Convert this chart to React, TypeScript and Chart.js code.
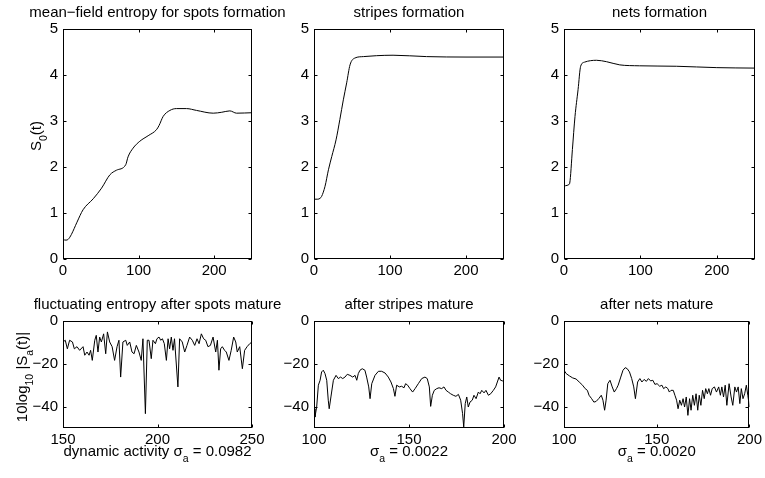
import React, { useEffect, useRef } from 'react';
import { Chart, registerables } from 'chart.js';

Chart.register(...registerables);

const FONT = "'Liberation Sans', Arial, Helvetica, sans-serif";

// ---------- data ----------
const TOP_X_TICKS = [0, 100, 200];
const TOP_Y_TICKS = [0, 1, 2, 3, 4, 5];
const BOT1_X_TICKS = [150, 200, 250];
const BOT_X_TICKS = [100, 150, 200];
const BOT_Y_TICKS = [-40, -20, 0];

const TITLES = [
  'mean\u2212field entropy for spots formation',
  'stripes formation',
  'nets formation',
  'fluctuating entropy after spots mature',
  'after stripes mature',
  'after nets mature',
];

// mean-field entropy S0(t)
const SPOTS_FORM: [number, number][] = [
  [0, 0.42], [4, 0.41], [7, 0.43], [11, 0.53], [18.5, 0.8], [26.5, 1.07], [40, 1.31], [51, 1.54],
  [62, 1.83], [70.7, 1.93], [83, 2.05], [86, 2.22], [92.7, 2.41], [101.6, 2.56], [112.6, 2.68],
  [123.6, 2.81], [127, 2.9], [132.5, 3.1], [141.4, 3.23], [150, 3.27], [163.4, 3.27], [176.6, 3.23],
  [198.7, 3.17], [210, 3.19], [220.7, 3.22], [229.6, 3.17], [250, 3.18],
];
const STRIPES_FORM: [number, number][] = [
  [0, 1.3], [5, 1.3], [8, 1.32], [10, 1.36], [14.5, 1.58], [19, 1.94], [23.4, 2.23], [29, 2.59],
  [34, 3.03], [38.6, 3.46], [43, 3.83], [47.4, 4.22], [54, 4.37], [65, 4.4], [82.5, 4.42],
  [104, 4.43], [148, 4.4], [200, 4.39], [250, 4.39],
];
const NETS_FORM: [number, number][] = [
  [0, 1.59], [4, 1.6], [6.5, 1.62], [7.5, 1.65], [11, 2.38], [14.4, 3.1], [18.4, 3.68], [21.8, 4.19],
  [27, 4.28], [42.4, 4.32], [55.5, 4.29], [73, 4.22], [99, 4.2], [147, 4.19], [200, 4.16], [250, 4.15],
];

// fluctuating entropy 10log10|Sa(t)|
const SPOTS_FLUCT: [number, number][] = [
  [150, -9.8], [151.2, -9], [152.3, -13], [153.5, -9], [155, -9.8], [156, -13], [157.4, -12],
  [158.8, -13.7], [160.6, -12], [161.5, -16], [162.7, -14.5], [163.8, -16], [164.6, -13.7],
  [165.5, -18.4], [166.8, -9], [167.6, -6.7], [168.5, -14.5], [169.4, -7.5], [170.3, -9.8],
  [171.5, -6], [172.6, -15.3], [173.5, -5.1], [174.7, -9.8], [176, -12], [177.3, -18.4],
  [178.6, -12], [179.6, -9], [180.5, -26.2], [181.7, -9.8], [183.2, -9], [184, -11.4],
  [185.3, -9.8], [186.5, -14.5], [187.6, -15.3], [188.8, -11.4], [190.2, -14.5], [191.4, -18.4],
  [192.3, -8.3], [193.6, -43.3], [194.6, -9], [195.5, -9], [196.7, -17.6], [197.6, -9],
  [198.9, -10.6], [199.7, -8.3], [200.8, -7.5], [201.7, -9], [202.6, -8.3], [203.6, -10.6],
  [204.7, -18.4], [205.6, -8.3], [206.4, -13], [207.3, -7.5], [208.2, -13.7], [209, -8.3],
  [210.8, -30.8], [211.7, -8.3], [213.1, -9.8], [214.4, -14.5], [215.6, -11.4], [217, -7.5],
  [218.4, -9], [219.7, -11.4], [220.9, -8.3], [222, -10.6], [223.2, -6], [224.4, -8.3],
  [225.5, -9], [226.7, -12], [228, -11.4], [229.4, -7.5], [230.8, -14.5], [231.7, -9],
  [232.5, -23], [233.4, -13], [234.3, -12], [235.5, -13.7], [236.4, -14.5], [237.8, -18.4],
  [239, -13.7], [240.3, -7.5], [241.4, -9.8], [242.2, -14.5], [243.5, -12], [244.9, -22.3],
  [246.1, -13.7], [247.4, -12], [248.8, -10.6], [250, -9.8],
];
const STRIPES_FLUCT: [number, number][] = [
  [100, -41], [100.5, -44.9], [101.4, -40.2], [102.3, -30], [103.2, -27.7], [104, -23.8],
  [104.9, -23], [105.8, -24.6], [106.7, -27.7], [107.5, -37], [108, -41], [108.9, -35.5],
  [110.2, -27.7], [111.6, -25.4], [112.8, -26.9], [114, -26.2], [115.1, -26.9], [116.3, -26.2],
  [117.5, -24.9], [118.9, -25.4], [120.4, -26.2], [121.6, -25.4], [122.5, -27.7], [123.3, -24.6],
  [124.2, -23], [125.4, -22.3], [126.8, -23], [127.7, -26.2], [128.8, -30.8], [129.5, -36.3],
  [130.4, -29.3], [132.1, -25.4], [133.9, -23.5], [135.6, -23.5], [137.4, -24.3], [139.1, -26.2],
  [140.5, -28.5], [141.8, -31.6], [142.6, -35.2], [143.5, -30], [144.9, -30.8], [146.1, -30.5],
  [147.4, -31.2], [148.2, -29.3], [149.3, -30], [150.5, -31.6], [151.9, -33.2], [153.2, -31.6],
  [154.9, -29.3], [156.7, -26.9], [158.4, -26.2], [159.6, -26.9], [160.7, -30.8], [161.4, -39.9],
  [162.3, -34.7], [163.3, -32.4], [164.6, -31.6], [165.8, -31.2], [167.2, -31.6], [168.4, -30.8],
  [169.5, -32.4], [170.7, -33.2], [171.9, -34], [173.3, -34.7], [174.7, -35.2], [176, -34.3],
  [177.2, -37], [178.2, -43.3], [178.8, -49.5], [179.6, -38.6], [180.4, -35.5], [181.2, -40.2],
  [182.1, -37.9], [183.3, -37], [184.2, -34.7], [185.3, -36.3], [186.5, -33.2], [187.4, -34],
  [188.3, -32.4], [189.5, -33.6], [190.5, -32.4], [191.8, -34.7], [193, -34], [194.4, -32.4],
  [195.6, -30.8], [196.5, -28.5], [197.4, -26.2], [198.2, -27.7], [199.3, -28], [200, -27.7],
];
const NETS_FLUCT: [number, number][] = [
  [100, -23], [101.2, -24.6], [103, -25.7], [104.7, -26.6], [106.5, -27.1], [108.2, -28.5],
  [110, -30], [111.4, -31.6], [112.6, -32.4], [113.5, -34.7], [114.9, -36.3], [116.1, -37.9],
  [117.3, -37.6], [118.7, -36.3], [120.1, -34.7], [121, -37], [121.9, -41.7], [122.7, -37],
  [123.6, -29.3], [124.8, -27.7], [126, -30.8], [127.1, -33.2], [128.3, -31.6], [129.2, -30],
  [130.6, -26.2], [131.8, -23], [133, -21.8], [134.1, -22.3], [135.3, -23.8], [136.5, -26.9],
  [137.6, -30.8], [138.5, -36.3], [139.7, -28.5], [140.9, -26.9], [142, -28.5], [143.2, -27.3],
  [144.4, -28.2], [145.5, -26.9], [146.7, -28], [147.9, -27.7], [149, -29.6], [150.2, -29.3],
  [151.6, -30.5], [152.8, -30], [153.7, -31.6], [154.9, -30.8], [156, -31.6], [156.8, -33.2],
  [157.7, -32.4], [158.9, -32.4], [159.8, -34.7], [160.7, -37], [161.5, -41], [162.4, -37],
  [163.3, -39.4], [164.2, -36.3], [165, -40.2], [165.9, -35.5], [166.8, -44.1], [167.7, -36.3],
  [168.5, -41.7], [169.4, -34.7], [170.3, -39.4], [171.2, -34], [172.1, -41.7], [172.9, -34.7],
  [173.8, -39.4], [174.7, -32.4], [175.6, -36.3], [176.4, -31.6], [177.3, -34], [178.1, -31.6],
  [179, -34.7], [179.9, -31.6], [181.1, -30.8], [182.2, -33.2], [183.4, -30.8], [184.3, -34.7],
  [185.1, -30.8], [186, -35.5], [186.9, -30], [187.8, -39.4], [189, -29.3], [190.1, -35.5],
  [191, -39.4], [192.1, -30.8], [193, -33.2], [193.9, -30.8], [194.8, -38.6], [195.6, -31.6],
  [196.5, -36.3], [197.4, -34], [198.3, -30], [199.1, -34.7], [200, -40.2],
];

// ---------- layout ----------
type Seg = { t: string; sub?: boolean };

type PanelCfg = {
  title: string;
  data: [number, number][];
  smooth: boolean;
  xMin: number; xMax: number; xTicks: number[];
  yMin: number; yMax: number; yTicks: number[];
  left: number; right: number; top: number; bottom: number;
  xLabel?: Seg[];
  yLabel?: Seg[];
  yLabelX?: number; yLabelY?: number;
};

const COL_L = [63, 314, 564];
const COL_R = [252, 504, 755];
const ROW_T = [29, 321];
const ROW_B = [259, 428];

const Y_AXIS_W = 40;
const X_AXIS_H = 25;
const TEXT_SIZE = 15;
const SUB_SIZE = 10.5;
const SUB_SHIFT = 6;
const TITLE_GAP = 12;
const XLABEL_BASE = 456;

const PANELS: PanelCfg[] = [
  {
    title: TITLES[0], data: SPOTS_FORM, smooth: true,
    xMin: 0, xMax: 250, xTicks: TOP_X_TICKS, yMin: 0, yMax: 5, yTicks: TOP_Y_TICKS,
    left: COL_L[0], right: COL_R[0], top: ROW_T[0], bottom: ROW_B[0],
    yLabel: [{ t: 'S' }, { t: '0', sub: true }, { t: '(t)' }], yLabelX: 41, yLabelY: 136,
  },
  {
    title: TITLES[1], data: STRIPES_FORM, smooth: true,
    xMin: 0, xMax: 250, xTicks: TOP_X_TICKS, yMin: 0, yMax: 5, yTicks: TOP_Y_TICKS,
    left: COL_L[1], right: COL_R[1], top: ROW_T[0], bottom: ROW_B[0],
  },
  {
    title: TITLES[2], data: NETS_FORM, smooth: true,
    xMin: 0, xMax: 250, xTicks: TOP_X_TICKS, yMin: 0, yMax: 5, yTicks: TOP_Y_TICKS,
    left: COL_L[2], right: COL_R[2], top: ROW_T[0], bottom: ROW_B[0],
  },
  {
    title: TITLES[3], data: SPOTS_FLUCT, smooth: false,
    xMin: 150, xMax: 250, xTicks: BOT1_X_TICKS, yMin: -50, yMax: 0, yTicks: BOT_Y_TICKS,
    left: COL_L[0], right: COL_R[0], top: ROW_T[1], bottom: ROW_B[1],
    xLabel: [{ t: 'dynamic activity \u03C3' }, { t: 'a', sub: true }, { t: ' = 0.0982' }],
    yLabel: [{ t: '10log' }, { t: '10', sub: true }, { t: ' |S' }, { t: 'a', sub: true }, { t: '(t)|' }],
    yLabelX: 27, yLabelY: 377,
  },
  {
    title: TITLES[4], data: STRIPES_FLUCT, smooth: false,
    xMin: 100, xMax: 200, xTicks: BOT_X_TICKS, yMin: -50, yMax: 0, yTicks: BOT_Y_TICKS,
    left: COL_L[1], right: COL_R[1], top: ROW_T[1], bottom: ROW_B[1],
    xLabel: [{ t: '\u03C3' }, { t: 'a', sub: true }, { t: ' = 0.0022' }],
  },
  {
    title: TITLES[5], data: NETS_FLUCT, smooth: false,
    xMin: 100, xMax: 200, xTicks: BOT_X_TICKS, yMin: -50, yMax: 0, yTicks: BOT_Y_TICKS,
    left: COL_L[2], right: COL_R[2], top: ROW_T[1], bottom: ROW_B[1],
    xLabel: [{ t: '\u03C3' }, { t: 'a', sub: true }, { t: ' = 0.0020' }],
  },
];

const W = 765;
const H = 478;

function drawRich(ctx: CanvasRenderingContext2D, segs: Seg[], cx: number, base: number) {
  const widths = segs.map((s) => {
    ctx.font = `${s.sub ? SUB_SIZE : TEXT_SIZE}px ${FONT}`;
    return ctx.measureText(s.t).width;
  });
  const total = widths.reduce((a, b) => a + b, 0);
  let x = cx - total / 2;
  ctx.textAlign = 'left';
  ctx.textBaseline = 'alphabetic';
  segs.forEach((s, i) => {
    ctx.font = `${s.sub ? SUB_SIZE : TEXT_SIZE}px ${FONT}`;
    ctx.fillText(s.t, x, base + (s.sub ? SUB_SHIFT : 0));
    x += widths[i];
  });
}

const framePlugin = {
  id: 'frame',
  afterDatasetsDraw(chart: any, _args: any, opts: any) {
    const { ctx, chartArea: a, scales } = chart;
    const xs = scales.x;
    const ys = scales.y;
    ctx.save();
    ctx.strokeStyle = '#000';
    ctx.lineWidth = 1;
    const L = Math.round(a.left) + 0.5;
    const R = Math.round(a.right) - 0.5;
    const T = Math.round(a.top) + 0.5;
    const B = Math.round(a.bottom) - 0.5;
    ctx.strokeRect(L, T, R - L, B - T);
    const len = 3;
    ctx.beginPath();
    xs.ticks.forEach((t: any) => {
      const px = Math.round(xs.getPixelForValue(t.value)) + 0.5;
      ctx.moveTo(px, B); ctx.lineTo(px, B - len);
      ctx.moveTo(px, T); ctx.lineTo(px, T + len);
    });
    ys.ticks.forEach((t: any) => {
      const py = Math.round(ys.getPixelForValue(t.value)) + 0.5;
      ctx.moveTo(L, py); ctx.lineTo(L + len, py);
      ctx.moveTo(R, py); ctx.lineTo(R - len, py);
    });
    ctx.stroke();
    ctx.fillStyle = '#000';
    // title, centred over the axes
    ctx.font = `${TEXT_SIZE}px ${FONT}`;
    ctx.textAlign = 'center';
    ctx.textBaseline = 'alphabetic';
    ctx.fillText(opts.title, (a.left + a.right) / 2, a.top - TITLE_GAP);
    if (opts.xLabel) {
      drawRich(ctx, opts.xLabel, (a.left + a.right) / 2, XLABEL_BASE);
    }
    if (opts.yLabel) {
      ctx.save();
      ctx.translate(opts.yLabelX, opts.yLabelY);
      ctx.rotate(-Math.PI / 2);
      drawRich(ctx, opts.yLabel, 0, 0);
      ctx.restore();
    }
    ctx.restore();
  },
};

function fmtTick(v: number) {
  return v < 0 ? '\u2212' + Math.abs(v) : String(v);
}

function Panel({ cfg }: { cfg: PanelCfg }) {
  const ref = useRef<HTMLCanvasElement>(null);
  useEffect(() => {
    const chart = new Chart(ref.current as HTMLCanvasElement, {
      type: 'line',
      data: {
        datasets: [
          {
            data: cfg.data.map(([x, y]) => ({ x, y })),
            borderColor: '#000',
            borderWidth: 1,
            pointRadius: 0,
            fill: false,
            tension: cfg.smooth ? 0.4 : 0,
            cubicInterpolationMode: cfg.smooth ? 'monotone' : 'default',
          } as any,
        ],
      },
      options: {
        animation: false,
        responsive: false,
        events: [],
        layout: {
          padding: {
            left: cfg.left - Y_AXIS_W,
            right: W - cfg.right,
            top: cfg.top,
            bottom: H - cfg.bottom - X_AXIS_H,
          },
        },
        plugins: {
          legend: { display: false },
          tooltip: { enabled: false },
          title: { display: false },
          frame: {
            title: cfg.title,
            xLabel: cfg.xLabel,
            yLabel: cfg.yLabel,
            yLabelX: cfg.yLabelX,
            yLabelY: cfg.yLabelY,
          },
        } as any,
        scales: {
          x: {
            type: 'linear',
            min: cfg.xMin,
            max: cfg.xMax,
            grid: { display: false, drawTicks: false, tickLength: 0 },
            border: { display: false },
            afterBuildTicks: (s: any) => { s.ticks = cfg.xTicks.map((v) => ({ value: v })); },
            afterFit: (s: any) => { s.height = X_AXIS_H; },
            ticks: {
              color: '#000',
              padding: 3,
              maxRotation: 0,
              font: { family: FONT, size: TEXT_SIZE },
              callback: (v: any) => fmtTick(Number(v)),
            },
          },
          y: {
            type: 'linear',
            min: cfg.yMin,
            max: cfg.yMax,
            grid: { display: false, drawTicks: false, tickLength: 0 },
            border: { display: false },
            afterBuildTicks: (s: any) => { s.ticks = cfg.yTicks.map((v) => ({ value: v })); },
            afterFit: (s: any) => { s.width = Y_AXIS_W; },
            ticks: {
              color: '#000',
              padding: 5,
              font: { family: FONT, size: TEXT_SIZE },
              callback: (v: any) => fmtTick(Number(v)),
            },
          },
        },
      },
      plugins: [framePlugin as any],
    });
    return () => chart.destroy();
  }, [cfg]);
  return (
    <canvas
      ref={ref}
      width={W}
      height={H}
      style={{ position: 'absolute', left: 0, top: 0, width: W, height: H }}
    />
  );
}

export default function App() {
  return (
    <div style={{ position: 'absolute', left: 0, top: 0, width: W, height: H, background: '#fff' }}>
      {PANELS.map((p, i) => (
        <Panel key={i} cfg={p} />
      ))}
    </div>
  );
}
